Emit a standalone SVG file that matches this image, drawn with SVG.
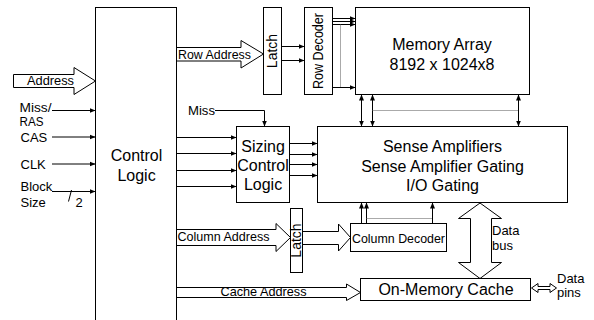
<svg xmlns="http://www.w3.org/2000/svg" width="594" height="320" viewBox="0 0 594 320">
<defs>
<style>
.box{fill:#fff;stroke:#000;stroke-width:1}
.ln{fill:none;stroke:#000;stroke-width:1}
.dot{fill:none;stroke:#555;stroke-width:1;stroke-dasharray:1 1}
.hol{fill:#fff;stroke:#000;stroke-width:1}
.t16{font-family:"Liberation Sans",Arial,sans-serif;font-size:16px;fill:#000}
.t13{font-family:"Liberation Sans",Arial,sans-serif;font-size:13px;fill:#000}
.t12{font-family:"Liberation Sans",Arial,sans-serif;font-size:12px;fill:#000}
.t14{font-family:"Liberation Sans",Arial,sans-serif;font-size:14px;fill:#000}
.mid{text-anchor:middle}
</style>
<marker id="ah" markerUnits="userSpaceOnUse" markerWidth="6" markerHeight="6" refX="6" refY="3" orient="auto-start-reverse">
<path d="M0,0.5 L6,3 L0,5.5 z" fill="#000"/>
</marker>
</defs>
<rect width="594" height="320" fill="#fff"/>

<g id="connectors">
<polygon class="hol" points="13.5,74.5 74,74.5 74,67.5 95.5,81 74,94.5 74,87.5 13.5,87.5"/>
<text class="t13" x="27" y="85" textLength="47" lengthAdjust="spacingAndGlyphs">Address</text>
<line class="ln" x1="52" y1="110.5" x2="95.5" y2="110.5" marker-end="url(#ah)"/>
<line class="ln" x1="52" y1="137" x2="95.5" y2="137" marker-end="url(#ah)"/>
<line class="ln" x1="52" y1="164" x2="95.5" y2="164" marker-end="url(#ah)"/>
<line class="ln" x1="52" y1="191.5" x2="95.5" y2="191.5" marker-end="url(#ah)"/>
<line class="ln" x1="68.5" y1="201.5" x2="71.5" y2="190"/>

<polygon class="hol" points="176.5,47.5 241,47.5 241,40.5 263.5,54 241,68 241,61 176.5,61"/>
<text class="t13" x="178" y="59" textLength="73" lengthAdjust="spacingAndGlyphs">Row Address</text>
<line class="ln" x1="281.5" y1="46.5" x2="304.5" y2="46.5" marker-end="url(#ah)"/>
<line class="ln" x1="281.5" y1="60.5" x2="304.5" y2="60.5" marker-end="url(#ah)"/>

<line class="ln" x1="332.5" y1="18.5" x2="355.5" y2="18.5" marker-end="url(#ah)"/>
<line class="ln" x1="332.5" y1="21.5" x2="355.5" y2="21.5" marker-end="url(#ah)"/>
<line class="ln" x1="332.5" y1="24.5" x2="355.5" y2="24.5" marker-end="url(#ah)"/>
<line class="dot" x1="340.5" y1="24.5" x2="340.5" y2="87.5"/>
<line class="ln" x1="332.5" y1="87.5" x2="355.5" y2="87.5" marker-end="url(#ah)"/>

<line class="ln" x1="361.5" y1="94.5" x2="361.5" y2="126.5" marker-start="url(#ah)" marker-end="url(#ah)"/>
<line class="ln" x1="372.5" y1="94.5" x2="372.5" y2="126.5" stroke="#555" stroke-width="1.5" marker-start="url(#ah)" marker-end="url(#ah)"/>
<line class="ln" x1="518.5" y1="94.5" x2="518.5" y2="126.5" marker-start="url(#ah)" marker-end="url(#ah)"/>
<line class="dot" x1="372.5" y1="110.5" x2="518.5" y2="110.5"/>

<text class="t13" x="188" y="115" textLength="27" lengthAdjust="spacingAndGlyphs">Miss</text>
<polyline class="ln" points="215,110.5 264.5,110.5 264.5,126.5" marker-end="url(#ah)"/>

<line class="ln" x1="176.5" y1="137.5" x2="236.5" y2="137.5" marker-end="url(#ah)"/>
<line class="ln" x1="176.5" y1="153.5" x2="236.5" y2="153.5" marker-end="url(#ah)"/>
<line class="ln" x1="176.5" y1="170.5" x2="236.5" y2="170.5" marker-end="url(#ah)"/>
<line class="ln" x1="176.5" y1="186.5" x2="236.5" y2="186.5" marker-end="url(#ah)"/>

<line class="ln" x1="289.5" y1="143.5" x2="317.5" y2="143.5" marker-end="url(#ah)"/>
<line class="ln" x1="289.5" y1="154.5" x2="317.5" y2="154.5" marker-end="url(#ah)"/>
<line class="ln" x1="289.5" y1="164.5" x2="317.5" y2="164.5" marker-end="url(#ah)"/>
<line class="ln" x1="289.5" y1="175.5" x2="317.5" y2="175.5" marker-end="url(#ah)"/>

<polygon class="hol" points="176.5,229.5 276,229.5 276,223.5 290.5,237.5 276,251.5 276,245.5 176.5,245.5"/>
<text class="t13" x="177.5" y="240.5" textLength="92" lengthAdjust="spacingAndGlyphs">Column Address</text>
<polygon class="hol" points="302.5,231.5 338.5,231.5 338.5,224 350.5,237.5 338.5,251 338.5,244.5 302.5,244.5"/>

<line class="ln" x1="361.5" y1="223.5" x2="361.5" y2="202.5" marker-end="url(#ah)"/>
<line class="ln" x1="366.5" y1="223.5" x2="366.5" y2="202.5" marker-end="url(#ah)"/>
<line class="ln" x1="432.5" y1="223.5" x2="432.5" y2="202.5" marker-end="url(#ah)"/>
<line class="dot" x1="366.5" y1="218.5" x2="432.5" y2="218.5"/>

<polygon class="hol" points="480,203 458.5,218.5 470.5,218.5 470.5,262.5 458.5,262.5 480,278.5 501.5,262.5 491.5,262.5 491.5,218.5 501.5,218.5"/>
<text class="t13" x="492" y="235">Data</text>
<text class="t13" x="492" y="250">bus</text>

<polygon class="hol" points="176.5,287.5 346.5,287.5 346.5,284 360.5,292.5 346.5,300.5 346.5,297.5 176.5,297.5"/>
<text class="t13" x="220.5" y="296" textLength="86" lengthAdjust="spacingAndGlyphs">Cache Address</text>

<polygon class="hol" points="531.5,288 538,283.5 538,286.5 550,286.5 550,283.5 556.5,288 550,292.5 550,289.5 538,289.5 538,292.5"/>
<text class="t13" x="557" y="283">Data</text>
<text class="t13" x="557" y="297">pins</text>
</g>

<g id="inputs">
<text class="t12" x="19.5" y="111.5" textLength="32" lengthAdjust="spacingAndGlyphs">Miss/</text>
<text class="t12" x="19.5" y="125.5" textLength="24" lengthAdjust="spacingAndGlyphs">RAS</text>
<text class="t13" x="20.5" y="141.5">CAS</text>
<text class="t13" x="20.5" y="168.5">CLK</text>
<text class="t13" x="20.5" y="191">Block</text>
<text class="t13" x="20.5" y="206.5">Size</text>
<text class="t13" x="75.5" y="207">2</text>
</g>

<g id="control-logic">
<rect class="box" x="95.5" y="7.5" width="81" height="320"/>
<text class="t16 mid" x="136.5" y="161">Control</text>
<text class="t16 mid" x="136.5" y="181">Logic</text>
</g>

<g id="row-latch">
<rect class="box" x="263.5" y="7.5" width="18" height="87"/>
<text class="t14 mid" transform="translate(277,51) rotate(-90)">Latch</text>
</g>

<g id="row-decoder">
<rect class="box" x="304.5" y="7.5" width="28" height="87"/>
<text class="t14 mid" transform="translate(323,51) rotate(-90)" textLength="76" lengthAdjust="spacingAndGlyphs">Row Decoder</text>
</g>

<g id="memory-array">
<rect class="box" x="355.5" y="7.5" width="174" height="87"/>
<text class="t16 mid" x="442" y="50">Memory Array</text>
<text class="t16 mid" x="442" y="70">8192 x 1024x8</text>
</g>

<g id="sizing-control-logic">
<rect class="box" x="236.5" y="126.5" width="53" height="76"/>
<text class="t16 mid" x="263" y="152">Sizing</text>
<text class="t16 mid" x="263" y="170.5">Control</text>
<text class="t16 mid" x="263" y="190">Logic</text>
</g>

<g id="sense-amplifiers">
<rect class="box" x="317.5" y="126.5" width="250" height="76"/>
<text class="t16 mid" x="442.5" y="152">Sense Amplifiers</text>
<text class="t16 mid" x="442.5" y="171.5">Sense Amplifier Gating</text>
<text class="t16 mid" x="442.5" y="191">I/O Gating</text>
</g>

<g id="column-latch">
<rect class="box" x="290.5" y="208.5" width="12" height="64"/>
<text class="t14 mid" transform="translate(301,240.5) rotate(-90)">Latch</text>
</g>

<g id="column-decoder">
<rect class="box" x="350.5" y="223.5" width="96" height="28"/>
<text class="t13 mid" x="398.5" y="243" textLength="93" lengthAdjust="spacingAndGlyphs">Column Decoder</text>
</g>

<g id="on-memory-cache">
<rect class="box" x="360.5" y="278.5" width="170" height="22"/>
<text class="t16 mid" x="446" y="295">On-Memory Cache</text>
</g>
</svg>
